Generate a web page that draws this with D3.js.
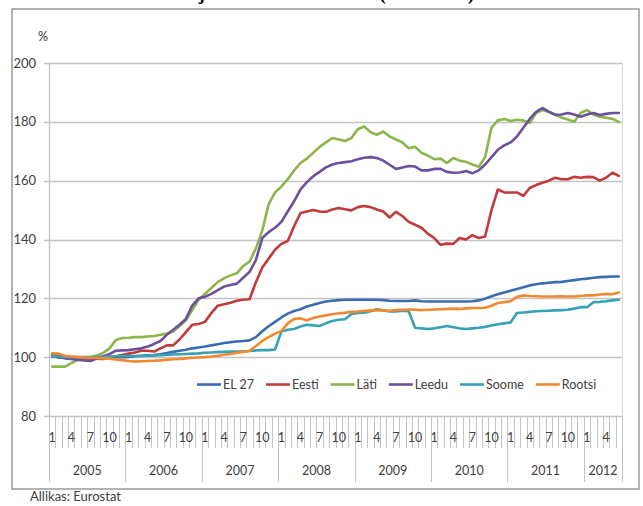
<!DOCTYPE html>
<html><head><meta charset="utf-8">
<script src="https://cdn.jsdelivr.net/npm/d3@7"></script>
<style>
body{margin:0;background:#fff}
svg{display:block}
text{font-family:Lato,"Open Sans",sans-serif;fill:#404040}
</style>
</head><body>
<svg id="chart" width="643" height="506"></svg>
<script>
// ---------- data ----------
const years = ["2005","2006","2007","2008","2009","2010","2011","2012"];
const monthsPerYear = [12,12,12,12,12,12,12,6];
const monthTickLabels = [1,4,7,10];
const yTicks = [80,100,120,140,160,180,200];
const seriesNames = ["EL 27","Eesti","Läti","Leedu","Soome","Rootsi"];
const seriesColors = ["#3a6bb3","#c13b3b","#8cb54c","#6c4f9e","#35a2b5","#f2892f"];

const el27 = [
 100.2,100,99.8,99.7,99.7,99.7,99.7,99.8,99.9,100,100,100,
 100.1,100.3,100.5,100.6,100.7,101,101.4,101.8,102.2,102.5,103,103.3,
 103.6,104,104.4,104.8,105.1,105.3,105.5,105.7,106.8,108.8,110.5,112,
 113.5,114.8,115.7,116.3,117.2,117.8,118.4,118.9,119.2,119.4,119.5,119.5,
 119.5,119.5,119.5,119.5,119.4,119.2,119.1,119.1,119.1,119.3,119,118.9,
 118.9,118.9,118.9,118.9,118.9,118.9,119,119.3,119.9,120.7,121.4,122,
 122.6,123.2,123.8,124.4,124.8,125.1,125.3,125.5,125.6,125.9,126.2,126.5,
 126.7,127,127.2,127.3,127.4,127.4];
const eesti = [
 101,100.6,100.2,100,99.8,99.6,99.6,99.5,99.4,99.8,100.3,100.7,
 101.2,101.6,102.2,102.2,101.9,103,104,104,106,108.5,111,111.3,
 112,115,117.5,118,118.5,119.2,119.5,119.7,125.5,130.5,133.5,136.5,
 138.5,139.5,144.5,149,149.5,150,149.5,149.4,150.2,150.7,150.3,149.9,
 151,151.4,151,150.2,149.5,147.5,149.4,148,146,145,144,142,
 140.5,138.2,138.6,138.5,140.5,140,141.5,140.5,141,150,157,156,
 156,156,154.8,157.5,158.5,159.3,160,161,160.5,160.5,161.3,161,
 161.3,161.2,160,161,162.7,161.6];
const lati = [
 96.8,96.8,96.8,98,99,99.4,100,100.6,101.4,103,105.8,106.5,
 106.6,106.8,106.8,107,107.2,107.6,108,108.7,110.5,112.5,116,119.5,
 121.5,123.5,125.5,126.8,127.8,128.5,131,132.5,137,143,152,156,
 158,160.5,163.5,166,167.5,169.5,171.5,173,174.5,174,173.5,174.5,
 177.5,178.4,176.5,175.6,176.7,175,174,173,171,171.5,169.5,168.5,
 167.3,167.5,166,167.7,166.8,166.4,165.5,164.7,168,178,180.5,181,
 180.3,180.7,180.5,179.6,183,184,183.3,182.5,181.4,180.8,180,183,
 184,182.5,181.7,181.4,181,180];
const leedu = [
 100.4,100,99.6,99.4,99.1,98.9,98.7,99.5,100.3,101,102.2,102.3,
 102.4,102.7,103,103.6,104.5,105.5,107.6,109.3,111,113,117.5,120,
 120.5,121.5,122.8,124,124.5,125,127,129,133,140.5,142.5,144,
 146,149.5,153,157,159.5,161.5,163,164.5,165.5,166,166.3,166.6,
 167.3,167.8,168,167.7,166.8,165.4,164,164.5,165,164.8,163.5,163.5,
 164,164,163,162.7,162.8,163.3,162.5,163.5,165.5,168,170.5,172,
 173,175,178,181,183.4,184.7,183.5,182.4,182.5,183,182.5,181.7,
 182.5,183,182.3,182.7,183,183];
const soome = [
 100.4,100.2,100.1,100,100,100,100,100,100.1,100.2,100.3,100.4,
 100.4,100.4,100.4,100.5,100.6,100.7,100.8,100.9,101,101.1,101.2,101.3,
 101.5,101.6,101.7,101.8,101.9,101.9,102,102.1,102.3,102.4,102.4,102.6,
 108.7,109.3,109.6,110.4,111,110.8,110.6,111.5,112.3,112.7,112.9,114.7,
 115,115.1,115.6,116.3,115.9,115.5,115.5,115.8,115.6,110,109.8,109.6,
 109.8,110.2,110.6,110.2,109.8,109.6,109.8,110,110.3,110.8,111.2,111.5,
 111.8,115,115.2,115.4,115.6,115.7,115.8,115.9,116,116.1,116.5,117,
 117,118.7,118.8,119,119.3,119.5];
const rootsi = [
 101.3,101.2,100.5,100.2,100,99.9,99.8,99.7,99.6,99.5,99.2,99,
 98.7,98.5,98.6,98.7,98.8,98.9,99.1,99.3,99.4,99.6,99.8,99.9,
 100,100.2,100.5,100.8,101.1,101.5,101.8,102.2,103.8,105.5,106.8,108,
 108.8,111.5,113,113.2,112.5,113.3,113.8,114.2,114.6,114.9,115.1,115.4,
 115.5,115.7,115.9,116,115.9,115.8,116,116.1,116.2,116.1,116,116.1,
 116.2,116.3,116.4,116.5,116.4,116.6,116.7,116.7,116.8,117.5,118.4,118.7,
 119,120.5,121,120.8,120.7,120.6,120.6,120.6,120.7,120.6,120.6,120.8,
 121,121,121.3,121.5,121.4,122];

const seriesValues = [el27, eesti, lati, leedu, soome, rootsi];

// ---------- build categories ----------
const categories = [];
years.forEach((y, yi) => {
  for (let m = 1; m <= monthsPerYear[yi]; m++) categories.push({year: y, month: m, key: y + "-" + m});
});

// ---------- layout ----------
const svg = d3.select("#chart");
const L = 49, R = 622, T = 63, B = 416;
const gridColor = "#c4c4c4";

const x = d3.scaleBand().domain(categories.map(d => d.key)).range([L, R]).padding(0);
const y = d3.scaleLinear().domain([80, 200]).range([B, T]);
const bw = x.bandwidth();

// outer frame
svg.append("rect").attr("x", 12).attr("y", 9).attr("width", 627).attr("height", 480)
  .attr("fill", "none").attr("stroke", "#9a9a9a").attr("stroke-width", 1.5);

// clipped title (only its descenders are visible in the reference)
svg.append("text").attr("x", 474).attr("y", -0.5).attr("text-anchor", "end")
  .style("font-family", "'Liberation Serif',serif").style("font-weight", "bold")
  .style("font-size", "18px").style("fill", "#000")
  .text("Tarbijahinnaindeksi muutus (2005 = 100)");

// y gridlines + ticks
svg.append("g").selectAll("line").data(yTicks).join("line")
  .attr("x1", L - 5).attr("x2", R)
  .attr("y1", d => Math.round(y(d)) + 0.5).attr("y2", d => Math.round(y(d)) + 0.5)
  .attr("stroke", gridColor).attr("stroke-width", 1.3);

svg.append("g").selectAll("text").data(yTicks).join("text")
  .attr("x", 36).attr("y", d => y(d) + 4.5).attr("text-anchor", "end")
  .style("font-size", "13px").text(d => d);

// y axis line & plot right edge
svg.append("line").attr("x1", L + 0.5).attr("x2", L + 0.5).attr("y1", T).attr("y2", B)
  .attr("stroke", gridColor).attr("stroke-width", 1.3);
svg.append("line").attr("x1", R + 0.5).attr("x2", R + 0.5).attr("y1", T).attr("y2", B)
  .attr("stroke", "#dcdcdc").attr("stroke-width", 1);

// % label
svg.append("text").attr("x", 38).attr("y", 41).style("font-size", "12.5px").text("%");

// x axis: month ticks
const boundaries = categories.map(d => x(d.key)).concat([R]);
svg.append("g").selectAll("line").data(boundaries).join("line")
  .attr("x1", d => Math.round(d) + 0.5).attr("x2", d => Math.round(d) + 0.5)
  .attr("y1", B).attr("y2", 448)
  .attr("stroke", gridColor).attr("stroke-width", 1);

// year boundaries
const yearStarts = categories.filter(d => d.month === 1).map(d => x(d.key)).concat([R]);
svg.append("g").selectAll("line").data(yearStarts).join("line")
  .attr("x1", d => Math.round(d) + 0.5).attr("x2", d => Math.round(d) + 0.5)
  .attr("y1", B).attr("y2", 482)
  .attr("stroke", gridColor).attr("stroke-width", 1);

// month labels
svg.append("g").selectAll("text")
  .data(categories.filter(d => monthTickLabels.includes(d.month))).join("text")
  .attr("x", d => x(d.key) + bw / 2).attr("y", 441.5).attr("text-anchor", "middle")
  .style("font-size", "12.5px").text(d => d.month);

// year labels
svg.append("g").selectAll("text").data(years).join("text")
  .attr("x", (d, i) => (yearStarts[i] + yearStarts[i + 1]) / 2).attr("y", 474.5)
  .attr("text-anchor", "middle").style("font-size", "12.5px").text(d => d);

// lines
const line = d3.line().x((d, i) => x(categories[i].key) + bw / 2).y(d => y(d));
svg.append("g").selectAll("path").data(seriesValues).join("path")
  .attr("d", d => line(d)).attr("fill", "none")
  .attr("stroke", (d, i) => seriesColors[i]).attr("stroke-width", 2.6)
  .attr("stroke-linejoin", "round").attr("stroke-linecap", "round");

// legend
const lg = svg.append("g");
let cx = 197;
seriesNames.forEach((n, i) => {
  lg.append("line").attr("x1", cx).attr("x2", cx + 24).attr("y1", 384.5).attr("y2", 384.5)
    .attr("stroke", seriesColors[i]).attr("stroke-width", 2.6);
  const t = lg.append("text").attr("x", cx + 26).attr("y", 389).style("font-size", "12.5px").text(n);
  cx += 26 + t.node().getComputedTextLength() + 12;
});

// source
svg.append("text").attr("x", 30).attr("y", 501).style("font-size", "13px").text("Allikas: Eurostat");
</script>
</body></html>
